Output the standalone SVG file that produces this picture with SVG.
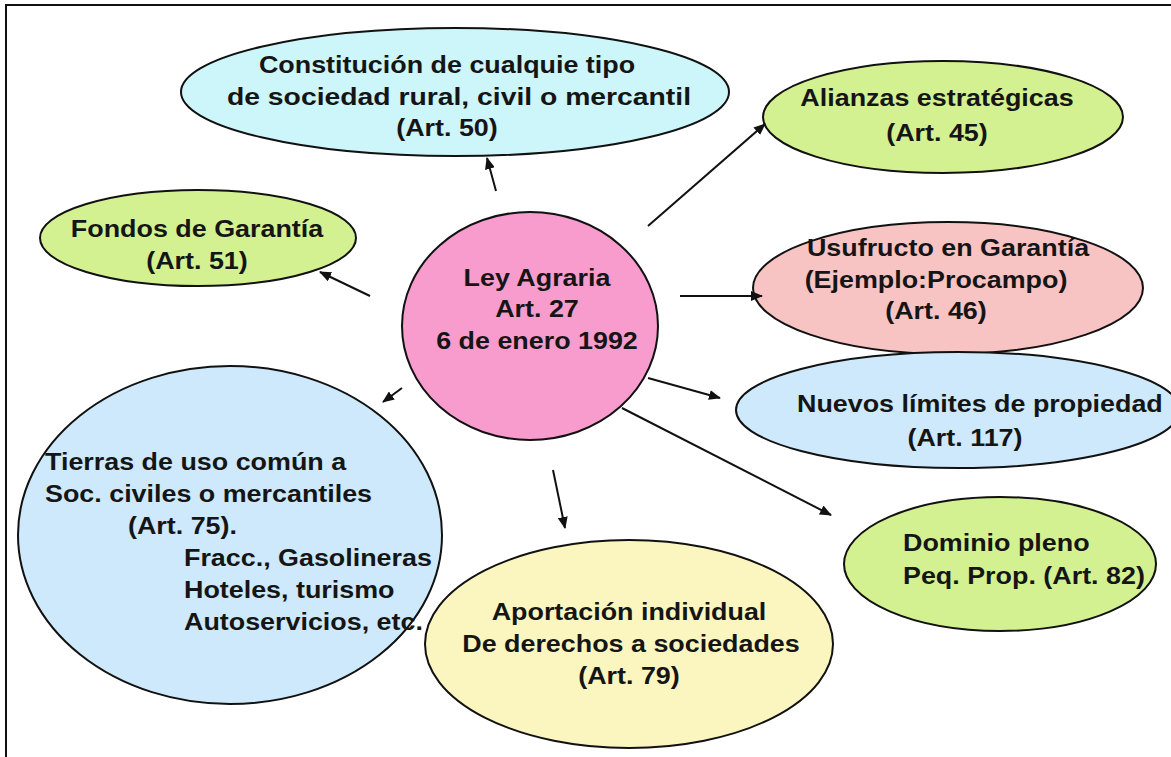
<svg xmlns="http://www.w3.org/2000/svg" width="1171" height="757" viewBox="0 0 1171 757">
<defs>
<marker id="ah" viewBox="0 0 12 10" refX="11" refY="5" markerWidth="12" markerHeight="10" markerUnits="userSpaceOnUse" orient="auto">
<path d="M0,0 L12,5 L0,10 Z" fill="#111"/>
</marker>
<style>
.n{stroke:#111;stroke-width:2}
.t{font-family:"Liberation Sans",Arial,sans-serif;font-weight:bold;font-size:24px;fill:#151515}
.m{text-anchor:middle}
.c{stroke:#111;stroke-width:2;fill:none;marker-end:url(#ah)}
</style>
</defs>
<rect x="0" y="0" width="1171" height="757" fill="#fff"/>
<rect x="6" y="5" width="1200" height="800" fill="#fff" stroke="#111" stroke-width="2"/>

<g id="tierras">
<ellipse class="n" cx="230" cy="535" rx="212" ry="169" fill="#cde9fb"/>
<text class="t" transform="translate(45,470) scale(1.12,1)">Tierras de uso común a</text>
<text class="t" transform="translate(45,502) scale(1.12,1)">Soc. civiles o mercantiles</text>
<text class="t" transform="translate(128,534) scale(1.12,1)">(Art. 75).</text>
<text class="t" transform="translate(184,566) scale(1.12,1)">Fracc., Gasolineras</text>
<text class="t" transform="translate(184,598) scale(1.12,1)">Hoteles, turismo</text>
<text class="t" transform="translate(184,630) scale(1.12,1)">Autoservicios, etc.</text>
</g>

<g id="aportacion">
<ellipse class="n" cx="629" cy="644" rx="204" ry="104" fill="#fbf6c0"/>
<text class="t m" transform="translate(629,620) scale(1.12,1)">Aportación individual</text>
<text class="t m" transform="translate(631,652) scale(1.12,1)">De derechos a sociedades</text>
<text class="t m" transform="translate(629,684) scale(1.12,1)">(Art. 79)</text>
</g>

<g id="constitucion">
<ellipse class="n" cx="455" cy="92" rx="274" ry="64" fill="#ccf6fa"/>
<text class="t m" transform="translate(447,73) scale(1.12,1)">Constitución de cualquie tipo</text>
<text class="t m" transform="translate(459,105) scale(1.18,1)">de sociedad rural, civil o mercantil</text>
<text class="t m" transform="translate(447,136) scale(1.12,1)">(Art. 50)</text>
</g>

<g id="fondos">
<ellipse class="n" cx="198" cy="238" rx="158" ry="48" fill="#d3f190"/>
<text class="t m" transform="translate(197,237) scale(1.12,1)">Fondos de Garantía</text>
<text class="t m" transform="translate(197,269) scale(1.12,1)">(Art. 51)</text>
</g>

<g id="ley">
<ellipse class="n" cx="530" cy="326" rx="128" ry="114" fill="#f79ccd"/>
<text class="t m" transform="translate(537,286) scale(1.12,1)">Ley Agraria</text>
<text class="t m" transform="translate(537,317) scale(1.12,1)">Art. 27</text>
<text class="t m" transform="translate(537,349) scale(1.12,1)">6 de enero 1992</text>
</g>

<g id="alianzas">
<ellipse class="n" cx="943" cy="117" rx="180" ry="56" fill="#d3f190"/>
<text class="t m" transform="translate(937,106) scale(1.12,1)">Alianzas estratégicas</text>
<text class="t m" transform="translate(937,141) scale(1.12,1)">(Art. 45)</text>
</g>

<g id="usufructo">
<ellipse class="n" cx="948" cy="288" rx="195" ry="66" fill="#f8c3c3"/>
<text class="t m" transform="translate(948,256) scale(1.12,1)">Usufructo en Garantía</text>
<text class="t m" transform="translate(936,288) scale(1.12,1)">(Ejemplo:Procampo)</text>
<text class="t m" transform="translate(936,319) scale(1.12,1)">(Art. 46)</text>
</g>

<g id="nuevos">
<ellipse class="n" cx="958" cy="410" rx="222" ry="58" fill="#cde9fb"/>
<text class="t" transform="translate(797,412) scale(1.12,1)">Nuevos límites de propiedad</text>
<text class="t m" transform="translate(965,446) scale(1.12,1)">(Art. 117)</text>
</g>

<g id="dominio">
<ellipse class="n" cx="1000" cy="564" rx="156" ry="67" fill="#d3f190"/>
<text class="t" transform="translate(903,551) scale(1.12,1)">Dominio pleno</text>
<text class="t" transform="translate(903,584) scale(1.12,1)">Peq. Prop. (Art. 82)</text>
</g>

<g id="connectors">
<line class="c" x1="496" y1="191" x2="487" y2="158"/>
<line class="c" x1="370" y1="296" x2="320" y2="272"/>
<line class="c" x1="648" y1="226" x2="765" y2="124"/>
<line class="c" x1="680" y1="296" x2="762" y2="296"/>
<line class="c" x1="648" y1="378" x2="720" y2="398"/>
<line class="c" x1="622" y1="408" x2="831" y2="515"/>
<line class="c" x1="553" y1="470" x2="565" y2="528"/>
<line class="c" x1="402" y1="388" x2="383" y2="402"/>
</g>
</svg>
